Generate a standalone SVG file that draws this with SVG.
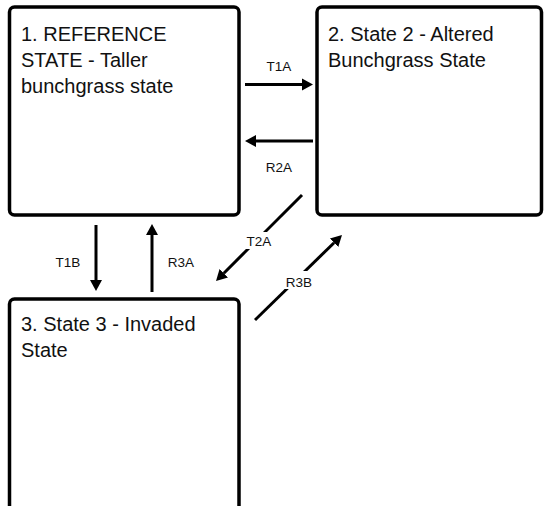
<svg xmlns="http://www.w3.org/2000/svg" width="544" height="506" viewBox="0 0 544 506">
<defs>
<marker id="ah" markerUnits="userSpaceOnUse" markerWidth="12" markerHeight="14" viewBox="0 -7 12 14" refX="0" refY="0" orient="auto">
<path d="M0,-6 L11,0 L0,6 z" fill="#000"/>
</marker>
<style>
.box{fill:#fff;stroke:#000;stroke-width:3.5}
.t{font-family:"Liberation Sans",Arial,sans-serif;font-size:20px;fill:#111}
.lb{font-family:"Liberation Sans",Arial,sans-serif;font-size:13.5px;fill:#111;text-anchor:middle}
.c{fill:none;stroke:#000;stroke-width:3;marker-end:url(#ah)}
</style>
</defs>
<rect width="544" height="506" fill="#fff"/>
<g id="state1">
<rect class="box" x="9.5" y="7" width="229.5" height="208" rx="5"/>
<text class="t" x="21" y="41">1. REFERENCE</text>
<text class="t" x="21" y="67">STATE - Taller</text>
<text class="t" x="21" y="93">bunchgrass state</text>
</g>
<g id="state2">
<rect class="box" x="317" y="7" width="224.5" height="208" rx="5"/>
<text class="t" x="328" y="41">2. State 2 - Altered</text>
<text class="t" x="328" y="67">Bunchgrass State</text>
</g>
<g id="state3">
<rect class="box" x="9.5" y="299" width="229.5" height="260" rx="5"/>
<text class="t" x="21" y="331">3. State 3 - Invaded</text>
<text class="t" x="21" y="357">State</text>
</g>
<g id="connectors">
<path class="c" d="M245,84.5 H302"/>
<text class="lb" x="279" y="71">T1A</text>
<path class="c" d="M313,141 H256"/>
<text class="lb" x="279" y="172">R2A</text>
<path class="c" d="M96,225 V280"/>
<text class="lb" x="68" y="267">T1B</text>
<path class="c" d="M152,292 V235"/>
<text class="lb" x="181" y="267">R3A</text>
<path class="c" d="M302,195 L223.8,273.2"/>
<rect x="242" y="232" width="34" height="17" fill="#fff"/>
<text class="lb" x="259" y="246">T2A</text>
<path class="c" d="M255,320 L334.1,242.7"/>
<rect x="282" y="271" width="34" height="18" fill="#fff"/>
<text class="lb" x="299" y="287">R3B</text>
</g>
</svg>
